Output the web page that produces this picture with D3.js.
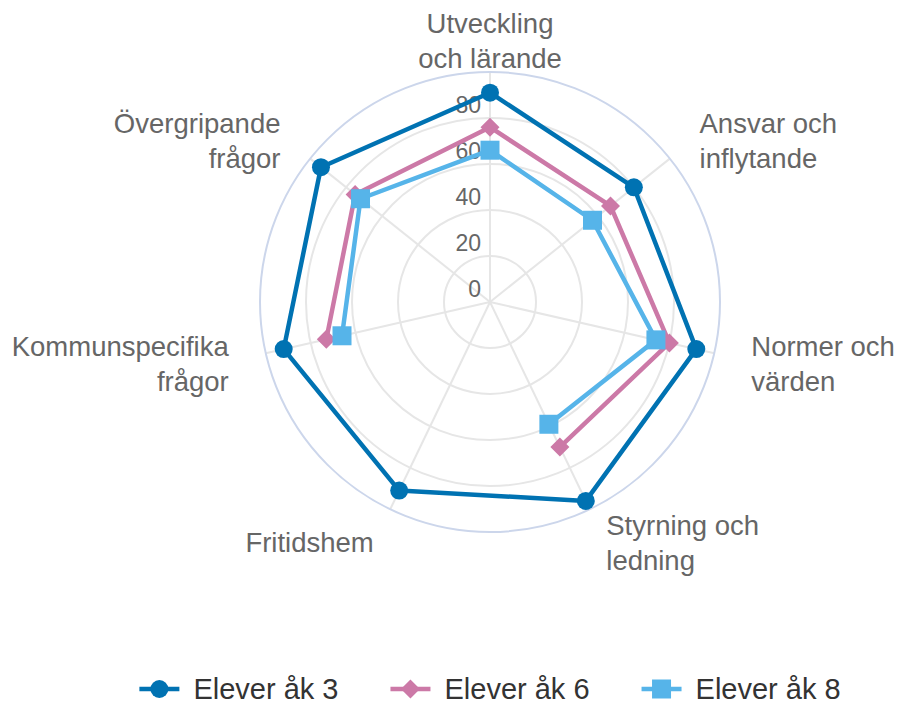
<!DOCTYPE html>
<html>
<head>
<meta charset="utf-8">
<script src="https://cdn.jsdelivr.net/npm/d3@7"></script>
<style>
  body { margin: 0; background: #fff; }
  svg { display: block; font-family: "Liberation Sans", Arial, sans-serif; }
</style>
</head>
<body>
<div id="chart"></div>
<script>
// categories (axis labels, one entry per line of text)
var categories = [
  ["Utveckling", "och lärande"],
  ["Ansvar och", "inflytande"],
  ["Normer och", "värden"],
  ["Styrning och", "ledning"],
  ["Fritidshem"],
  ["Kommunspecifika", "frågor"],
  ["Övergripande", "frågor"]
];

var seriesNames = ["Elever åk 3", "Elever åk 6", "Elever åk 8"];
var ak3 = [91, 80, 92, 96, 91, 92, 94];
var ak6 = [76, 67, 80, 70, null, 73, 75];
var ak8 = [66, 57, 74, 59, null, 66, 72];

var yTicks = [0, 20, 40, 60, 80];
var yMax = 100;

var colors = ["#0072b2", "#cc79a7", "#56b4e9"];
var symbols = ["circle", "diamond", "square"];

//------------------------------SVG------------------------------//
var width = 899, height = 704;
var cx = 490, cy = 302, radius = 230;

var svg = d3.select("#chart").append("svg")
    .attr("width", width)
    .attr("height", height);

var rScale = d3.scaleLinear().domain([0, yMax]).range([0, radius]);
var step = 2 * Math.PI / categories.length;
function angle(i) { return i * step; }

var plot = svg.append("g").attr("transform", "translate(" + cx + "," + cy + ")");

//-----------------------------GRID------------------------------//
plot.selectAll(".ring")
    .data(yTicks.filter(function(d) { return d > 0; }))
    .enter().append("circle")
    .attr("r", function(d) { return rScale(d); })
    .attr("fill", "none")
    .attr("stroke", "#e6e6e6")
    .attr("stroke-width", 2);

plot.selectAll(".spoke")
    .data(categories)
    .enter().append("line")
    .attr("x1", 0).attr("y1", 0)
    .attr("x2", function(d, i) { return rScale(yMax) * Math.sin(angle(i)); })
    .attr("y2", function(d, i) { return -rScale(yMax) * Math.cos(angle(i)); })
    .attr("stroke", "#e6e6e6")
    .attr("stroke-width", 2);

plot.append("circle")
    .attr("r", rScale(yMax))
    .attr("fill", "none")
    .attr("stroke", "#ccd6eb")
    .attr("stroke-width", 2);

//------------------------Y AXIS LABELS--------------------------//
plot.selectAll(".ylab")
    .data(yTicks)
    .enter().append("text")
    .attr("x", -9)
    .attr("y", function(d) { return -rScale(d) - 5; })
    .attr("text-anchor", "end")
    .style("font-size", "23px")
    .style("fill", "#666666")
    .text(function(d) { return d; });

//------------------------CATEGORY LABELS------------------------//
var labelR = 268, lineH = 35;
var labels = plot.selectAll(".xlab")
    .data(categories)
    .enter().append("text")
    .style("font-size", "27.5px")
    .style("fill", "#666666")
    .attr("text-anchor", function(d, i) {
        var s = Math.sin(angle(i));
        return Math.abs(s) < 0.1 ? "middle" : (s > 0 ? "start" : "end");
    });

labels.each(function(d, i) {
    var x = labelR * Math.sin(angle(i));
    var y = -labelR * Math.cos(angle(i)) + 3 + 4 * Math.cos(angle(i));
    var top = y - (d.length - 1) * lineH / 2;
    d3.select(this).selectAll("tspan")
        .data(d)
        .enter().append("tspan")
        .attr("x", x)
        .attr("y", function(t, j) { return top + j * lineH; })
        .attr("dy", "0.35em")
        .text(function(t) { return t; });
});

//----------------------------SERIES-----------------------------//
function markerPath(type, s) {
    if (type === "diamond") return "M0," + (-s) + "L" + s + ",0L0," + s + "L" + (-s) + ",0Z";
    if (type === "square") return "M" + (-s) + "," + (-s) + "h" + (2 * s) + "v" + (2 * s) + "h" + (-2 * s) + "Z";
    return d3.symbol().type(d3.symbolCircle).size(Math.PI * s * s)();
}
var markerSize = [9, 9.5, 9.5];

var line = d3.lineRadial()
    .defined(function(d) { return d.v != null; })
    .angle(function(d) { return angle(d.i); })
    .radius(function(d) { return rScale(d.v); });

var allSeries = [ak3, ak6, ak8];

allSeries.forEach(function(values, k) {
    var pts = values.map(function(v, i) { return { i: i, v: v }; });
    var g = plot.append("g");
    var firstNull = values.indexOf(null);
    var path;
    if (firstNull < 0) {
        path = line.curve(d3.curveLinearClosed)(pts);
    } else {
        // walk round the circle starting just after the gap
        var ordered = [];
        for (var j = 1; j <= pts.length; j++) ordered.push(pts[(firstNull + j) % pts.length]);
        path = line.curve(d3.curveLinear)(ordered);
    }
    g.append("path")
        .attr("d", path)
        .attr("fill", "none")
        .attr("stroke", colors[k])
        .attr("stroke-width", 4.5)
        .attr("stroke-linejoin", "round");

    g.selectAll(".pt")
        .data(pts.filter(function(d) { return d.v != null; }))
        .enter().append("path")
        .attr("d", markerPath(symbols[k], markerSize[k]))
        .attr("transform", function(d) {
            var r = rScale(d.v);
            return "translate(" + (r * Math.sin(angle(d.i))) + "," + (-r * Math.cos(angle(d.i))) + ")";
        })
        .attr("fill", colors[k]);
});

//----------------------------LEGEND-----------------------------//
var legendY = 689, symW = 40, gapText = 14, itemGap = 52;
var legend = svg.append("g");
var items = legend.selectAll(".item")
    .data(seriesNames)
    .enter().append("g");

items.append("line")
    .attr("x1", 0).attr("x2", symW)
    .attr("y1", 0).attr("y2", 0)
    .attr("stroke", function(d, i) { return colors[i]; })
    .attr("stroke-width", 4.5);
items.append("path")
    .attr("d", function(d, i) { return markerPath(symbols[i], markerSize[i]); })
    .attr("transform", "translate(" + (symW / 2) + ",0)")
    .attr("fill", function(d, i) { return colors[i]; });
items.append("text")
    .attr("x", symW + gapText)
    .attr("dy", "0.35em")
    .style("font-size", "29px")
    .style("fill", "#333333")
    .text(function(d) { return d; });

var xPos = 0, starts = [];
items.each(function() {
    starts.push(xPos);
    xPos += symW + gapText + this.querySelector("text").getComputedTextLength() + itemGap;
});
var totalW = xPos - itemGap;
var x0 = cx - totalW / 2;
items.attr("transform", function(d, i) { return "translate(" + (x0 + starts[i]) + "," + legendY + ")"; });
</script>
</body>
</html>
